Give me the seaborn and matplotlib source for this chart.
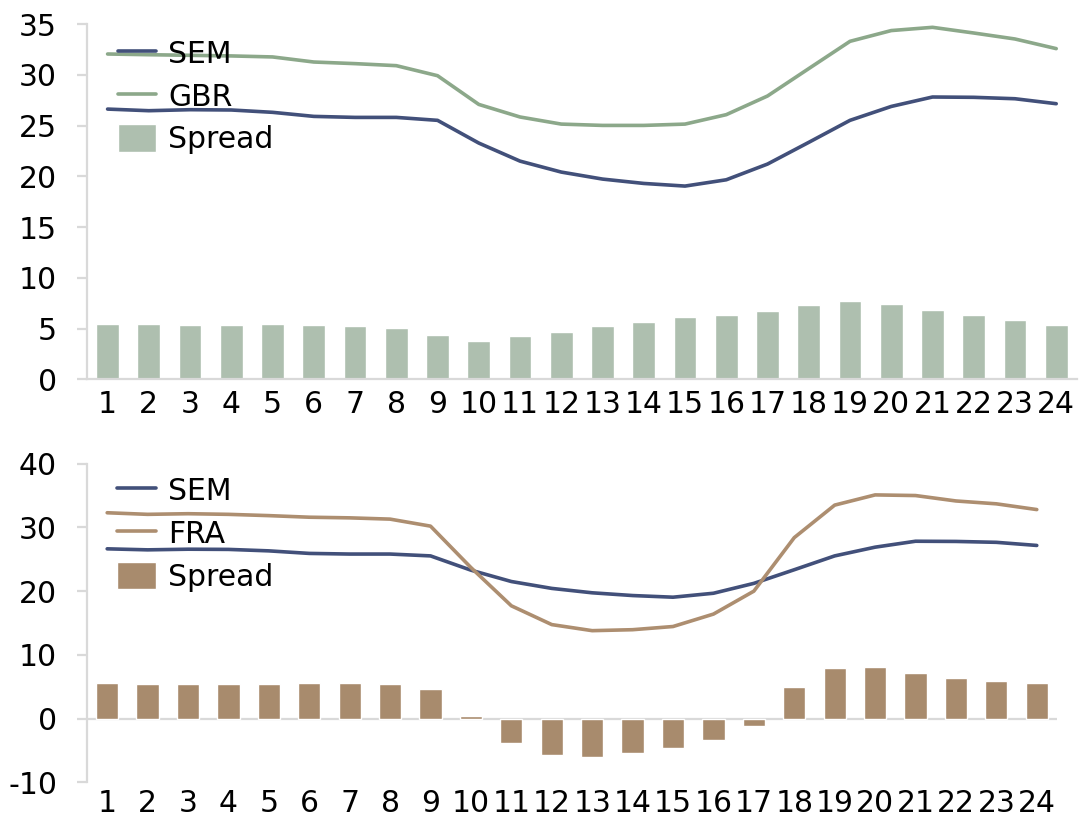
import matplotlib
matplotlib.use("Agg")
import matplotlib.pyplot as plt
import seaborn as sns
import pandas as pd
import numpy as np

hours = list(range(1, 25))

sem = [26.64, 26.48, 26.58, 26.55, 26.32, 25.92, 25.82, 25.82, 25.53, 23.29, 21.51, 20.43,
       19.74, 19.31, 19.05, 19.67, 21.22, 23.36, 25.53, 26.90, 27.83, 27.80, 27.66, 27.17]
gbr = [32.07, 32.00, 31.94, 31.88, 31.78, 31.28, 31.12, 30.92, 29.93, 27.10, 25.86, 25.16,
       25.03, 25.03, 25.16, 26.09, 27.93, 30.63, 33.32, 34.38, 34.70, 34.14, 33.55, 32.60]
spread_gbr = [5.43, 5.43, 5.36, 5.36, 5.49, 5.39, 5.30, 5.07, 4.41, 3.78, 4.31, 4.70,
              5.23, 5.69, 6.12, 6.35, 6.71, 7.34, 7.73, 7.47, 6.84, 6.32, 5.89, 5.36]
fra = [32.30, 32.05, 32.15, 32.05, 31.85, 31.60, 31.50, 31.30, 30.20, 23.70, 17.70, 14.75,
       13.80, 13.95, 14.45, 16.40, 20.00, 28.40, 33.50, 35.10, 35.00, 34.15, 33.70, 32.80]
spread_fra = [5.59, 5.48, 5.48, 5.43, 5.43, 5.64, 5.64, 5.38, 4.65, 0.42, -3.86, -5.74,
              -5.95, -5.38, -4.60, -3.34, -1.15, 5.01, 7.94, 8.15, 7.10, 6.32, 5.95, 5.59]

df = pd.DataFrame({
    "hour": hours,
    "pos": np.arange(len(hours)),
    "SEM": sem,
    "GBR": gbr,
    "FRA": fra,
    "spread_gbr": spread_gbr,
    "spread_fra": spread_fra,
})

sns.set_style("white")
plt.rcParams["font.family"] = ["DejaVu Sans"]
plt.rcParams["axes.unicode_minus"] = False
plt.rcParams["text.color"] = "black"
plt.rcParams["xtick.color"] = "black"
plt.rcParams["ytick.color"] = "black"

c_sem = "#42507A"
c_gbr = "#8CA88A"
c_bar_gbr = "#AEBFAF"
c_fra = "#AD8E70"
c_bar_fra = "#A88B6D"
grey = "#D9D9D9"
fs = 21.5

fig = plt.figure(figsize=(10.79, 8.23), dpi=100)
ax1 = fig.add_axes([0.0806, 0.5391, 0.9174, 0.4314])
ax2 = fig.add_axes([0.0806, 0.0494, 0.8990, 0.3872])


def draw_panel(ax, other, spread, c_line, c_bar, ylim, yticks, legend_y, below_zero, xpad):
    sns.barplot(data=df, x="hour", y=spread, color=c_bar, width=0.55, errorbar=None,
                saturation=1, label="Spread", ax=ax, zorder=2)
    sns.lineplot(data=df, x="pos", y="SEM", color=c_sem, lw=2.6, label="SEM", ax=ax, zorder=3)
    sns.lineplot(data=df, x="pos", y=other, color=c_line, lw=2.6, label=other, ax=ax, zorder=3)
    ax.set_xlim(-0.5, 23.5)
    ax.set_ylim(*ylim)
    ax.set_yticks(yticks)
    ax.set_xlabel("")
    ax.set_ylabel("")
    for s in ["top", "right"]:
        ax.spines[s].set_visible(False)
    ax.spines["left"].set_color(grey)
    ax.spines["left"].set_linewidth(1.6)
    if below_zero:
        ax.spines["bottom"].set_visible(False)
        ax.axhline(0, color=grey, lw=1.6, zorder=1)
    else:
        ax.spines["bottom"].set_color(grey)
        ax.spines["bottom"].set_linewidth(1.6)
    ax.tick_params(axis="y", length=7.5, width=1.6, color=grey, labelcolor="black",
                   labelsize=fs, pad=14, left=True)
    ax.tick_params(axis="x", length=0, labelsize=fs, labelcolor="black", pad=xpad)
    handles, labels = ax.get_legend_handles_labels()
    order = [labels.index("SEM"), labels.index(other), labels.index("Spread")]
    ax.legend([handles[i] for i in order], [labels[i] for i in order],
              loc="upper left", bbox_to_anchor=(0.031, legend_y), frameon=False,
              fontsize=fs, borderpad=0, borderaxespad=0, handlelength=1.3,
              handleheight=1.05, handletextpad=0.4, labelspacing=0.42)


draw_panel(ax1, "GBR", "spread_gbr", c_gbr, c_bar_gbr, (0, 35), range(0, 36, 5), 0.958, False, 8)
draw_panel(ax2, "FRA", "spread_fra", c_fra, c_bar_fra, (-10, 40), range(-10, 41, 10), 0.96, True, 5)

fig.savefig("out.png", dpi=100)
